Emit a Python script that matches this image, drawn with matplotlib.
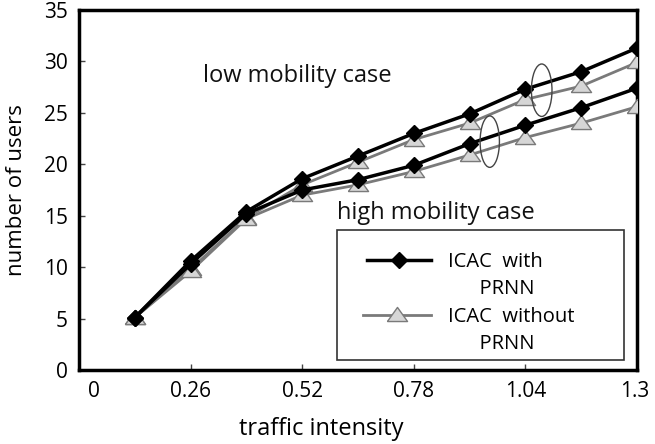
import matplotlib
matplotlib.use("Agg")
import matplotlib.pyplot as plt
from matplotlib.patches import Ellipse
from matplotlib.lines import Line2D
from matplotlib.legend_handler import HandlerLine2D
import matplotlib.transforms as mtransforms
import numpy as np

plt.rcParams['font.family'] = ['Open Sans', 'DejaVu Sans']

x = [0.13, 0.26, 0.39, 0.52, 0.65, 0.78, 0.91, 1.04, 1.17, 1.3]
low_with = [5.1, 10.6, 15.4, 18.6, 20.8, 23.0, 24.9, 27.3, 29.0, 31.3]
low_without = [5.1, 9.8, 14.8, 18.0, 20.2, 22.4, 24.0, 26.3, 27.6, 29.9]
high_with = [5.1, 10.3, 15.2, 17.5, 18.5, 19.9, 22.0, 23.8, 25.5, 27.4]
high_without = [5.1, 9.6, 14.7, 17.0, 18.0, 19.3, 20.9, 22.6, 24.0, 25.6]

xticks = [0, 0.26, 0.52, 0.78, 1.04, 1.3]
xtick_labels = ['0', '0.26', '0.52', '0.78', '1.04', '1.3']
yticks = [0, 5, 10, 15, 20, 25, 30, 35]


class ShiftedLineHandler(HandlerLine2D):
    """Draw the legend line only over the right part of the handle area."""
    def __init__(self, frac=0.22, **kw):
        super().__init__(**kw)
        self.frac = frac

    def get_xdata(self, legend, xdescent, ydescent, width, height, fontsize):
        x0 = -xdescent + width * self.frac
        x1 = -xdescent + width
        xdata = np.array([x0, x1])
        xdata_marker = np.array([(x0 + x1) / 2])
        return xdata, xdata_marker


fig = plt.figure(figsize=(6.55, 4.44), dpi=100)
ax = fig.add_axes([0.1206, 0.1667, 0.8519, 0.8108])

squat_triangle = [(-1.0, -0.6), (1.0, -0.6), (0.0, 0.8), (-1.0, -0.6)]

black_kw = dict(color='black', lw=2.5, marker='D', markersize=8.5,
                markerfacecolor='black', markeredgecolor='black')
gray_kw = dict(color='#7a7a7a', lw=2.0, marker=squat_triangle, markersize=14.5,
               markerfacecolor='#d6d6d6', markeredgecolor='#7a7a7a', markeredgewidth=1.0)

l2, = ax.plot(x, low_without, **gray_kw, zorder=3)
l1, = ax.plot(x, low_with, **black_kw, zorder=4)
ax.plot(x, high_without, **gray_kw, zorder=3)
ax.plot(x, high_with, **black_kw, zorder=4)

ax.add_patch(Ellipse((1.078, 27.2), 0.048, 5.1, fill=False, edgecolor='#444444', lw=1.0, zorder=5))
ax.add_patch(Ellipse((0.957, 22.2), 0.045, 5.0, fill=False, edgecolor='#444444', lw=1.0, zorder=5))

ax.text(0.289, 28.0, 'low mobility case', fontsize=17, color='#111111')
ax.text(0.601, 14.7, 'high mobility case', fontsize=17, color='#111111')

ax.set_xlim(0, 1.3)
ax.set_ylim(0, 35)
ax.set_xticks(xticks)
ax.set_xticklabels(xtick_labels)
ax.set_yticks(yticks)
ax.tick_params(axis='both', direction='in', length=4, width=1, labelsize=15, color='#444444')
ax.tick_params(axis='x', pad=8)
ax.tick_params(axis='y', pad=8)
lab0 = ax.get_xticklabels()[0]
lab0.set_transform(lab0.get_transform() + mtransforms.ScaledTranslation(15/100, 0, fig.dpi_scale_trans))
labl = ax.get_xticklabels()[-1]
labl.set_transform(labl.get_transform() + mtransforms.ScaledTranslation(-2/100, 0, fig.dpi_scale_trans))

for s in ax.spines.values():
    s.set_linewidth(2.5)

ax.set_xlabel('traffic intensity', fontsize=17, labelpad=11, x=0.434)
ax.set_ylabel('number of users', fontsize=16, labelpad=12)

blank = Line2D([], [], linestyle='none', marker=None)
hmap = {l1: ShiftedLineHandler(frac=0.27), l2: ShiftedLineHandler(frac=0.23)}
leg = ax.legend([l1, blank, l2, blank],
                ['ICAC  with', '      PRNN', 'ICAC  without', '      PRNN'],
                handler_map=hmap, title=' ', title_fontsize=6.5,
                loc='upper left', bbox_to_anchor=(0.462, 0.389, 0.515, 0.0), mode='expand',
                fontsize=14.5, frameon=True, fancybox=False, edgecolor='black',
                handlelength=4.4, labelspacing=0.36, borderpad=0.3, handletextpad=0.8,
                borderaxespad=0)
leg.get_frame().set_linewidth(1.2)

fig.savefig('out.png', dpi=100)
